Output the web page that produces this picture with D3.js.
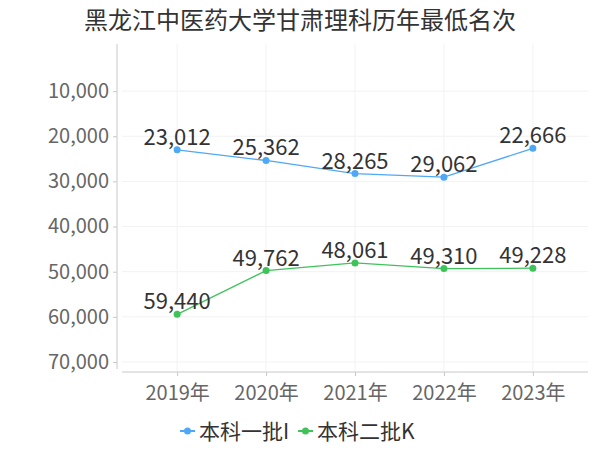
<!DOCTYPE html>
<html>
<head>
<meta charset="utf-8">
<script src="https://cdn.jsdelivr.net/npm/d3@7"></script>
<style>
body { margin: 0; background: #fff; }
text { font-family: "Noto Sans CJK SC", "Noto Sans", sans-serif; }
</style>
</head>
<body>
<div id="chart"></div>
<script>
var years = ['2019年', '2020年', '2021年', '2022年', '2023年']
var batch1 = [23012, 25362, 28265, 29062, 22666]
var batch2 = [59440, 49762, 48061, 49310, 49228]
var seriesNames = ['本科一批I', '本科二批K']
var seriesColors = ['#4fa8f6', '#3fc25a']
var yTicks = [10000, 20000, 30000, 40000, 50000, 60000, 70000]

var chart_width = 600
var chart_height = 450
var fontFam = '"Noto Sans CJK SC", sans-serif'

var svg = d3.select('#chart')
    .append('svg')
    .attr('width', chart_width)
    .attr('height', chart_height)

// 标题
svg.append('text')
    .attr('x', 300)
    .attr('y', 29)
    .attr('text-anchor', 'middle')
    .attr('font-size', 24)
    .attr('fill', '#333')
    .text('黑龙江中医药大学甘肃理科历年最低名次')

var x = d3.scalePoint()
    .domain(years)
    .range([122, 588])
    .padding(0.62)

var y = d3.scaleLinear()
    .domain([0, 72000])
    .range([46, 371])

// 网格
svg.selectAll('.hgrid')
    .data(yTicks)
    .enter()
    .append('line')
    .attr('x1', 122)
    .attr('x2', 588)
    .attr('y1', function(d){ return y(d) })
    .attr('y2', function(d){ return y(d) })
    .attr('stroke', '#f2f2f2')

svg.selectAll('.vgrid')
    .data(years)
    .enter()
    .append('line')
    .attr('x1', function(d){ return x(d) })
    .attr('x2', function(d){ return x(d) })
    .attr('y1', 44)
    .attr('y2', 371)
    .attr('stroke', '#f2f2f2')

// y轴
var yAxis = svg.append('g')
    .attr('transform', 'translate(117,0)')
    .call(d3.axisLeft(y).tickValues(yTicks).tickSize(4).tickPadding(4).tickFormat(d3.format(',')))
yAxis.select('.domain').attr('stroke', '#c8c8c8').attr('d', 'M-0,44V369')
yAxis.selectAll('.tick line').attr('stroke', '#c8c8c8')
yAxis.selectAll('.tick text').attr('font-size', 20).attr('fill', '#666')
    .style('font-family', fontFam)

// x轴
var xAxis = svg.append('g')
    .attr('transform', 'translate(0,372)')
    .call(d3.axisBottom(x).tickSize(4).tickPadding(10))
xAxis.select('.domain').attr('stroke', '#c8c8c8').attr('d', 'M122,0H588')
xAxis.selectAll('.tick line').attr('stroke', '#c8c8c8')
xAxis.selectAll('.tick text').attr('font-size', 20).attr('fill', '#666')
    .style('font-family', fontFam)

var series = [batch1, batch2]
var line = d3.line()
    .x(function(d, i){ return x(years[i]) })
    .y(function(d){ return y(d) })

series.forEach(function(data, s){
    svg.append('path')
        .datum(data)
        .attr('d', line)
        .attr('fill', 'none')
        .attr('stroke', seriesColors[s])
        .attr('stroke-width', 1.3)

    svg.selectAll('.pt' + s)
        .data(data)
        .enter()
        .append('circle')
        .attr('cx', function(d, i){ return x(years[i]) })
        .attr('cy', function(d){ return y(d) })
        .attr('r', 3.5)
        .attr('fill', seriesColors[s])

    svg.selectAll('.lb' + s)
        .data(data)
        .enter()
        .append('text')
        .attr('x', function(d, i){ return x(years[i]) })
        .attr('y', function(d){ return y(d) - 5 })
        .attr('text-anchor', 'middle')
        .attr('font-size', 22)
        .attr('fill', '#333')
        .text(function(d){ return d3.format(',')(d) })
})

// 图例
var legendX = [180, 298]
seriesNames.forEach(function(name, s){
    var g = svg.append('g').attr('transform', 'translate(' + legendX[s] + ',431)')
    g.append('line')
        .attr('x1', 0).attr('x2', 15)
        .attr('stroke', seriesColors[s])
        .attr('stroke-width', 2)
    g.append('circle')
        .attr('cx', 7.5).attr('r', 3.5)
        .attr('fill', seriesColors[s])
    g.append('text')
        .attr('x', 19)
        .attr('y', 8)
        .attr('font-size', 21)
        .attr('fill', '#333')
        .text(name)
})
</script>
</body>
</html>
